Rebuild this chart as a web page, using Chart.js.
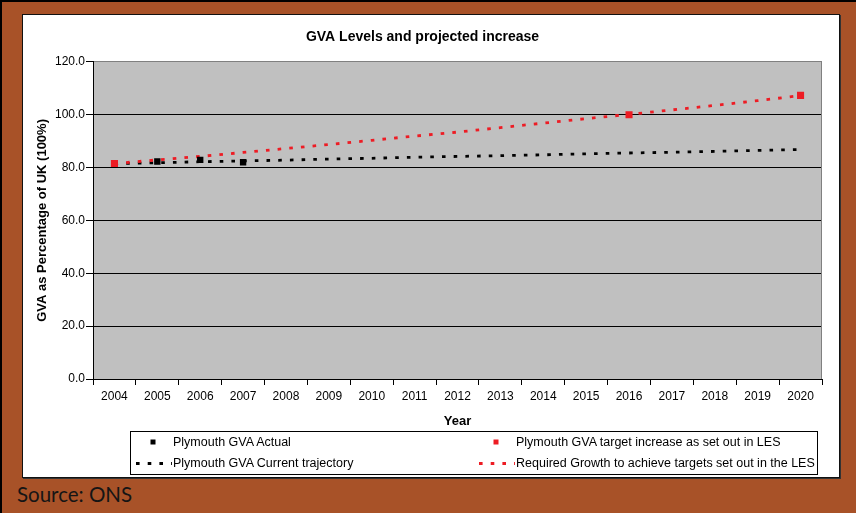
<!DOCTYPE html>
<html>
<head>
<meta charset="utf-8">
<script src="https://cdn.jsdelivr.net/npm/chart.js@4.4.0/dist/chart.umd.min.js"></script>
<style>
  html, body { margin: 0; padding: 0; }
  body { width: 856px; height: 513px; background: #a85228; position: relative; overflow: hidden; }
  #edgeTop { position: absolute; left: 0; top: 0; width: 856px; height: 2px; background: #000; }
  #edgeLeft { position: absolute; left: 0; top: 0; width: 2px; height: 513px; background: #000; }
  #panel { position: absolute; left: 22px; top: 14px; width: 816px; height: 462px; background: #fff;
           border: 1px solid #111; box-shadow: 1px 1px 0 #333; }
  #panel canvas { position: absolute; left: 0; top: 0; }
  #legend { position: absolute; left: 130px; top: 431px; width: 686px; height: 42px; background: #fff;
            border: 1px solid #000; font: 12.5px "Liberation Sans", Arial, sans-serif; color: #000; }
  .item { position: absolute; height: 20px; line-height: 20px; white-space: nowrap; }
  .item canvas { position: absolute; left: 0; top: 0; }
  .item span { position: absolute; left: 37px; top: 0; }
  #source { position: absolute; left: 17px; top: 484px; font: 20.5px Lato, "Open Sans", sans-serif;
            line-height: 20px; color: #151515; }
</style>
</head>
<body>
<div id="edgeTop"></div>
<div id="edgeLeft"></div>
<div id="panel"><canvas id="gva" width="816" height="462"></canvas></div>
<div id="legend"></div>
<div id="source">Source: ONS</div>
<script>
const years = ['2004', '2005', '2006', '2007', '2008', '2009', '2010', '2011', '2012',
               '2013', '2014', '2015', '2016', '2017', '2018', '2019', '2020'];
const yTicks = [0, 20, 40, 60, 80, 100, 120];

// ONS figures published so far
const gvaActual = [81.5, 82.3, 82.9, 82.0, null, null, null, null, null,
                   null, null, null, null, null, null, null, null];
// LES milestones
const gvaTarget = [81.5, null, null, null, null, null, null, null, null,
                   null, null, null, 100.0, null, null, null, 107.3];
const gvaTrajectory = [81.5, 81.8, 82.2, 82.5, 82.8, 83.2, 83.5, 83.9, 84.2,
                       84.5, 84.8, 85.2, 85.5, 85.8, 86.1, 86.5, 86.8];
const gvaRequired = [81.5, 82.9, 84.2, 85.7, 87.2, 88.7, 90.3, 91.9, 93.4,
                     95.1, 96.8, 98.5, 100.1, 101.8, 103.5, 105.3, 107.2];

const RED = '#ed1c24';
const FONT = '"Liberation Sans", Arial, sans-serif';

// grey plot area with a thin grey frame on top / right
const plotBackground = {
  id: 'plotBackground',
  beforeDraw(chart) {
    const { ctx, chartArea: a } = chart;
    ctx.save();
    ctx.fillStyle = '#c0c0c0';
    ctx.fillRect(a.left, a.top, a.right - a.left, a.bottom - a.top);
    ctx.restore();
  },
  beforeDatasetsDraw(chart) {
    const { ctx, chartArea: a } = chart;
    ctx.save();
    ctx.strokeStyle = '#808080';
    ctx.lineWidth = 1;
    ctx.beginPath();
    ctx.moveTo(a.right - 0.5, a.top);
    ctx.lineTo(a.right - 0.5, a.bottom);
    ctx.stroke();
    ctx.restore();
  }
};

const chart = new Chart(document.getElementById('gva'), {
  type: 'line',
  data: {
    labels: years,
    datasets: [
      { label: 'Plymouth GVA target increase as set out in LES', data: gvaTarget,
        showLine: false, pointStyle: 'rect', pointRadius: 5, borderWidth: 0,
        backgroundColor: RED, borderColor: RED },
      { label: 'Plymouth GVA Actual', data: gvaActual,
        showLine: false, pointStyle: 'rect', pointRadius: 4.5, borderWidth: 0,
        backgroundColor: '#000', borderColor: '#000' },
      { label: 'Required Growth to achieve targets set out in the LES', data: gvaRequired,
        borderColor: RED, borderWidth: 2.8, borderDash: [3.6, 8.1], pointRadius: 0, tension: 0 },
      { label: 'Plymouth GVA Current trajectory', data: gvaTrajectory,
        borderColor: '#000', borderWidth: 2.8, borderDash: [3.6, 8.1], pointRadius: 0, tension: 0 }
    ]
  },
  options: {
    responsive: false,
    animation: false,
    devicePixelRatio: 1,
    layout: { padding: { left: 0, right: 17, top: 0, bottom: 0 } },
    plugins: {
      legend: { display: false },
      tooltip: { enabled: false },
      title: {
        display: true,
        text: 'GVA Levels and projected increase',
        color: '#000',
        font: { family: FONT, size: 14, weight: 'bold' },
        padding: { top: 14, bottom: 16 }
      }
    },
    scales: {
      x: {
        offset: true,
        grid: { offset: true, drawOnChartArea: false, drawTicks: true, tickLength: 6, color: '#000' },
        border: { color: '#000', width: 1 },
        ticks: { color: '#000', font: { family: FONT, size: 12 }, padding: 4, maxRotation: 0, autoSkip: false },
        title: { display: true, text: 'Year', color: '#000',
                 font: { family: FONT, size: 13, weight: 'bold' }, padding: { top: 0, bottom: 48 } },
        afterFit(scale) { scale.height = 98; }
      },
      y: {
        min: 0,
        max: 120,
        afterBuildTicks(scale) { scale.ticks = yTicks.map(v => ({ value: v })); },
        grid: {
          color: ctx => (ctx.tick && ctx.tick.value === 120 ? '#808080' : '#000'),
          tickColor: '#000',
          tickLength: 7,
          lineWidth: 1
        },
        border: { color: '#000', width: 1 },
        ticks: { color: '#000', font: { family: FONT, size: 12 }, padding: 1,
                 callback: v => Number(v).toFixed(1) },
        title: { display: true, text: 'GVA as Percentage of UK (100%)', color: '#000',
                 font: { family: FONT, size: 13, weight: 'bold' }, padding: { top: 12, bottom: 0 } },
        afterFit(scale) { scale.width = 70; }
      }
    }
  },
  plugins: [plotBackground]
});

// two-column legend below the plot, built from the datasets
const legendOrder = [
  ['Plymouth GVA Actual', 5, 0],
  ['Plymouth GVA target increase as set out in LES', 348, 0],
  ['Plymouth GVA Current trajectory', 5, 21],
  ['Required Growth to achieve targets set out in the LES', 348, 21]
];
const legendBox = document.getElementById('legend');
legendOrder.forEach(([label, left, top]) => {
  const ds = chart.data.datasets.find(d => d.label === label);
  const item = document.createElement('div');
  item.className = 'item';
  item.style.left = left + 'px';
  item.style.top = top + 'px';
  const c = document.createElement('canvas');
  c.width = 38; c.height = 20;
  const g = c.getContext('2d');
  if (ds.showLine === false) {
    g.fillStyle = ds.backgroundColor;
    g.fillRect(14.5, 7.5, 5, 5);
  } else {
    g.strokeStyle = ds.borderColor;
    g.lineWidth = ds.borderWidth;
    g.setLineDash(ds.borderDash);
    g.beginPath();
    g.moveTo(0, 10.5);
    g.lineTo(36, 10.5);
    g.stroke();
  }
  const s = document.createElement('span');
  s.textContent = label;
  item.appendChild(c);
  item.appendChild(s);
  legendBox.appendChild(item);
});
</script>
</body>
</html>
